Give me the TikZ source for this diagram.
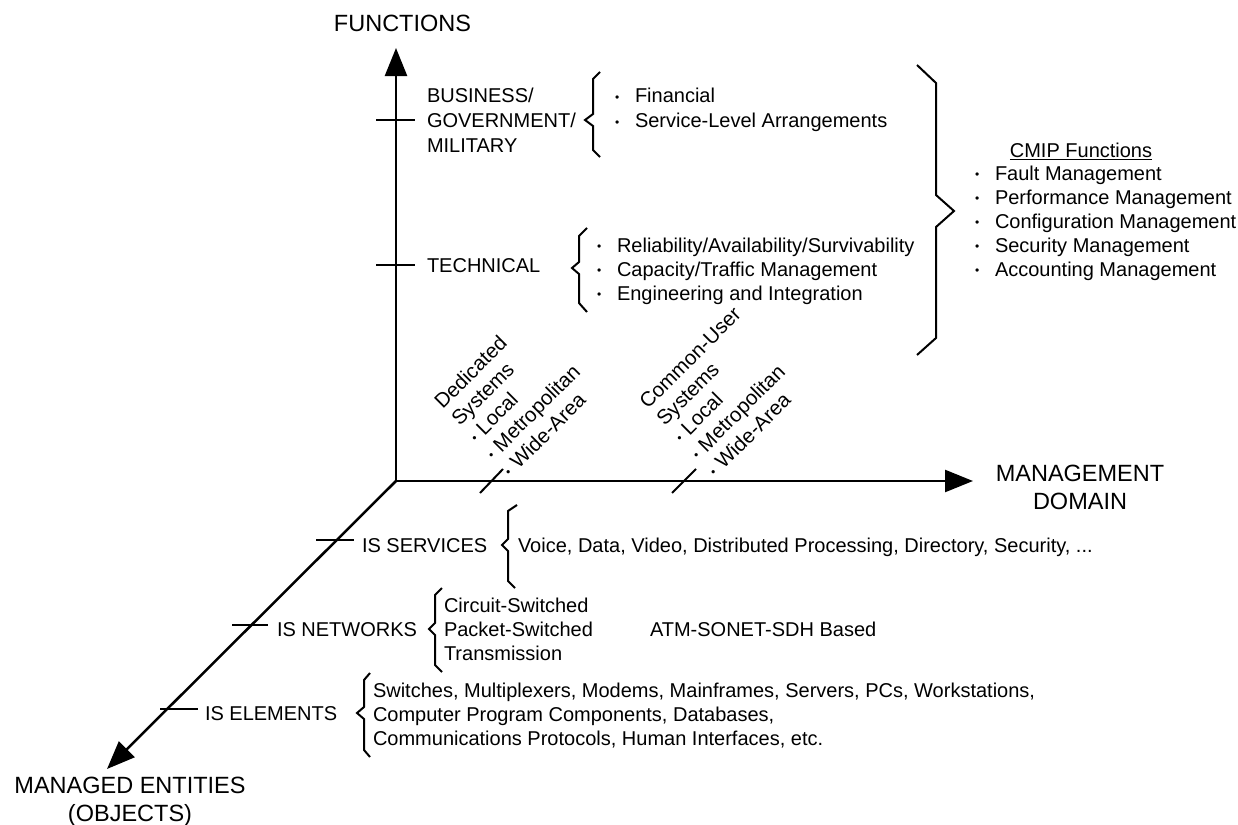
\documentclass[tikz,border=0pt]{standalone}
\usepackage{fontspec}
\setmainfont{Liberation Sans}
\usetikzlibrary{arrows.meta}
\newcommand\bsize{\fontsize{20bp}{24bp}\selectfont}
\newcommand\wsize{\fontsize{20bp}{25bp}\selectfont}
\newcommand\rsize{\fontsize{20.5bp}{24bp}\selectfont}
\newcommand\asize{\fontsize{23.5bp}{28.5bp}\selectfont}
\newcommand\bul{\makebox[20bp][l]{\raisebox{1.5bp}{\fontsize{12bp}{12bp}\selectfont •}}}
\newcommand\bulr{\makebox[11bp][l]{\raisebox{1.5bp}{\fontsize{12bp}{12bp}\selectfont •}}}
\tikzset{
  axisline/.style={line width=2.5bp,-{Triangle[length=28bp,width=22bp]}},
  tickline/.style={line width=2bp},
  braceline/.style={line width=2bp,line join=miter},
  lbl/.style={inner sep=0pt,outer sep=0pt,anchor=north west,align=left,font=\bsize},
  albl/.style={inner sep=0pt,outer sep=0pt,anchor=north,align=center,font=\asize},
  rlbl/.style={inner sep=0pt,outer sep=0pt,anchor=north west,align=left,font=\rsize,rotate=45},
}
\begin{document}
\begin{tikzpicture}[x=1bp,y=-1bp]
\useasboundingbox (0,0) rectangle (1238,825);
% axes
\coordinate (O) at (396,481);
\coordinate (Ftip) at (396,48);
\coordinate (Mtip) at (973,481);
\coordinate (Etip) at (107,769);
\draw[axisline] (O) -- (Ftip);
\draw[axisline] (O) -- (Mtip);
\draw[axisline] (O) -- (Etip);
% axis labels
\node[albl] (functions) at (402.5,23-11.5) {\strut FUNCTIONS};
\node[albl] (mgmt) at (1080,473-11.5) {\strut MANAGEMENT\\DOMAIN};
\node[albl] (entities) at (130,785-11.5) {\strut MANAGED ENTITIES\\(OBJECTS)};
% ticks on vertical axis
\draw[tickline] (376,120) -- (415,120);
\draw[tickline] (376,265) -- (415,265);
% ticks on horizontal axis
\draw[tickline] (480,493) -- (503,469);
\draw[tickline] (672,493) -- (696,469);
% ticks on diagonal axis
\draw[tickline] (316,540) -- (354,540);
\draw[tickline] (232,625) -- (268,625);
\draw[tickline] (160,709) -- (198,709);
% function levels
\node[lbl,font=\wsize] (bus) at (427,95-9.6) {\strut BUSINESS/\\GOVERNMENT/\\MILITARY};
\node[lbl] (tech) at (427,265-9.6) {\strut TECHNICAL};
\draw[braceline] (600,72) -- (593,79) -- (593,114) -- (585,120) -- (593,126) -- (593,150) -- (600,157);
\node[lbl,font=\wsize] (buslist) at (615,95-9.6) {\strut\bul Financial\\\bul Service-Level Arrangements};
\draw[braceline] (587,228) -- (579,236) -- (579,262) -- (572,268) -- (579,274) -- (579,303) -- (587,312);
\node[lbl] (techlist) at (597,245-9.6) {\strut\bul Reliability/Availability/Survivability\\\bul Capacity/Traffic Management\\\bul Engineering and Integration};
% big brace and CMIP
\draw[braceline] (917,65) -- (936,83) -- (936,195) -- (954,211) -- (936,227) -- (936,338) -- (917,355);
\node[lbl,anchor=north] (cmip) at (1081,150-9.6) {\strut\underline{CMIP Functions}};
\node[lbl] (cmiplist) at (975,173-9.6) {\strut\bul Fault Management\\\bul Performance Management\\\bul Configuration Management\\\bul Security Management\\\bul Accounting Management};
% management domain labels
\node[rlbl] (ded) at (431,398) {\strut Dedicated\\Systems\\\bulr Local\\\bulr Metropolitan\\\bulr Wide-Area};
\node[rlbl] (com) at (636,398) {\strut Common-User\\Systems\\\bulr Local\\\bulr Metropolitan\\\bulr Wide-Area};
% managed entities levels
\node[lbl] (svc) at (362,545-9.6) {\strut IS SERVICES};
\draw[braceline] (517,505) -- (508,511) -- (508,539) -- (502,545) -- (508,551) -- (508,581) -- (515,588);
\node[lbl] (svclist) at (518,545-9.6) {\strut Voice, Data, Video, Distributed Processing, Directory, Security, ...};
\node[lbl] (net) at (277,629-9.6) {\strut IS NETWORKS};
\draw[braceline] (442,588) -- (435,595) -- (435,623) -- (429,629) -- (435,635) -- (435,665) -- (442,672);
\node[lbl] (netlist) at (444,605-9.6) {\strut Circuit-Switched\\Packet-Switched\\Transmission};
\node[lbl] (atm) at (650,629-9.6) {\strut ATM-SONET-SDH Based};
\node[lbl] (elem) at (205,713-9.6) {\strut IS ELEMENTS};
\draw[braceline] (370,673) -- (364,680) -- (364,707) -- (357,713) -- (364,719) -- (364,750) -- (370,757);
\node[lbl] (elemlist) at (373,690-9.6) {\strut Switches, Multiplexers, Modems, Mainframes, Servers, PCs, Workstations,\\Computer Program Components, Databases,\\Communications Protocols, Human Interfaces, etc.};
\end{tikzpicture}
\end{document}
